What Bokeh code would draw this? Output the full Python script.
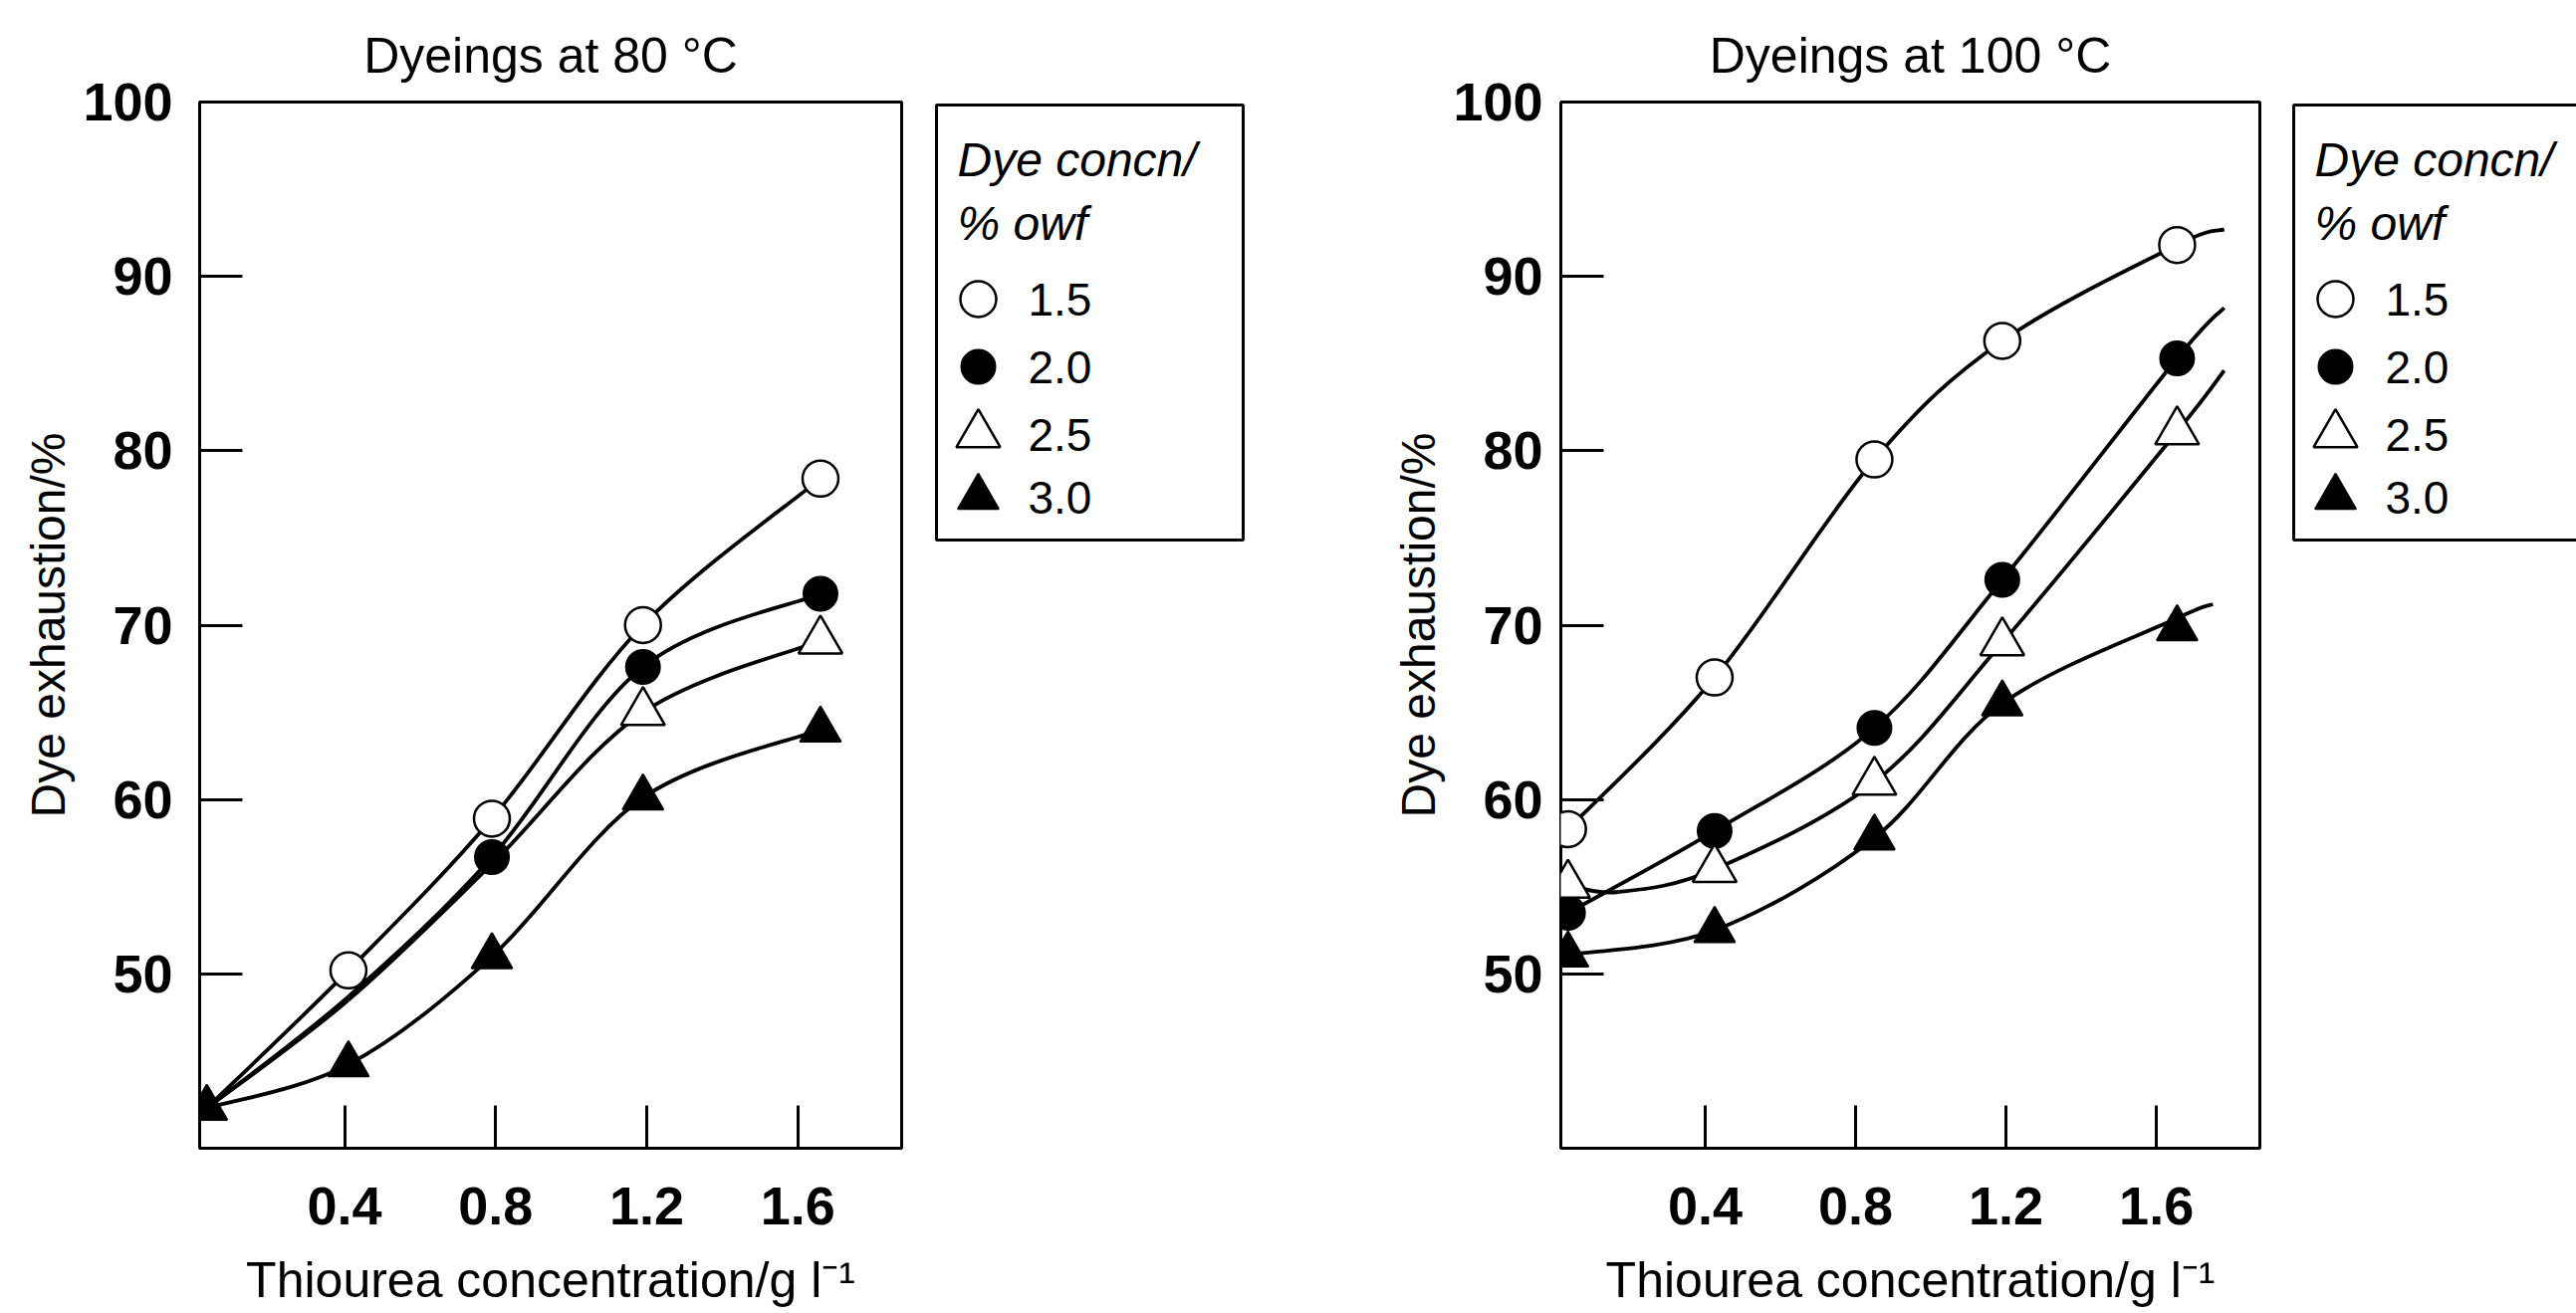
import numpy as np
from bokeh.plotting import figure
from bokeh.models import Range1d, FixedTicker, ColumnDataSource
from bokeh.layouts import row
from bokeh.core.properties import value
from bokeh.embed import file_html
from bokeh.resources import INLINE

FONT = "Liberation Sans"

# ---------------- data ----------------
series_labels = ["1.5", "2.0", "2.5", "3.0"]
legend_title = ["Dye concn/", "% owf"]
x_ticks = [0.4, 0.8, 1.2, 1.6]
y_ticks = [50, 60, 70, 80, 90, 100]
title_80 = "Dyeings at 80 °C"
title_100 = "Dyeings at 100 °C"
x_label = "Thiourea concentration/g l⁻¹"
y_label = "Dye exhaustion/%"

# Dyeings at 80 C : plotted points
x80_c15 = [0.41, 0.79, 1.19, 1.66]
y80_c15 = [50.2, 58.9, 70.0, 78.4]
x80_c20 = [0.79, 1.19, 1.66]
y80_c20 = [56.7, 67.6, 71.8]
x80_c25 = [1.19, 1.66]
y80_c25 = [65.0, 69.1]
x80_c30 = [0.035, 0.41, 0.79, 1.19, 1.66]
y80_c30 = [42.3, 44.8, 51.0, 60.1, 64.0]
# Dyeings at 80 C : traced curve knots
cx80_c15 = [0.035, 0.41, 0.79, 1.19, 1.66]
cy80_c15 = [42.3, 50.2, 58.9, 70.0, 78.4]
cx80_c20 = [0.035, 0.41, 0.79, 1.19, 1.66]
cy80_c20 = [42.3, 48.7, 56.7, 67.6, 71.8]
cx80_c25 = [0.035, 0.41, 0.79, 1.19, 1.66]
cy80_c25 = [42.3, 48.5, 56.3, 65.0, 69.1]
cx80_c30 = [0.035, 0.41, 0.79, 1.19, 1.66]
cy80_c30 = [42.3, 44.8, 51.0, 60.1, 64.0]

# Dyeings at 100 C : plotted points
x100 = [0.035, 0.425, 0.85, 1.19, 1.655]
y100_c15 = [58.3, 67.0, 79.5, 86.3, 91.8]
y100_c20 = [53.5, 58.2, 64.1, 72.6, 85.3]
y100_c25 = [55.1, 56.0, 61.0, 69.0, 81.1]
y100_c30 = [51.1, 52.5, 57.8, 65.5, 69.8]
# Dyeings at 100 C : traced curve knots
cx100_c15 = [0.035, 0.425, 0.85, 1.19, 1.655, 1.78]
cy100_c15 = [58.3, 67.0, 79.5, 86.3, 91.8, 92.7]
cx100_c20 = [0.035, 0.425, 0.85, 1.19, 1.655, 1.78]
cy100_c20 = [53.5, 58.2, 64.1, 72.6, 85.3, 88.2]
cx100_c25 = [0.035, 0.17, 0.425, 0.85, 1.19, 1.655, 1.78]
cy100_c25 = [55.1, 54.7, 56.0, 61.0, 69.0, 81.1, 84.6]
cx100_c30 = [0.035, 0.425, 0.85, 1.19, 1.655, 1.75]
cy100_c30 = [51.1, 52.5, 57.8, 65.5, 70.4, 71.2]

# ---------------- styles ----------------
H = 1319
TOP = 102
FH = 1051
STYLES = [
    dict(marker="circle", size=36, fill_color="white", line_color="black", line_width=2.5),
    dict(marker="circle", size=34, fill_color="black", line_color="black", line_width=2),
    dict(marker="triangle", size=44, fill_color="white", line_color="black", line_width=2.5),
    dict(marker="triangle", size=41, fill_color="black", line_color="black", line_width=2),
]


def smooth_segments(xs, ys):
    """Catmull-Rom spline through the knots, as cubic Bezier segments."""
    P = np.column_stack([xs, ys]).astype(float)
    E = np.vstack([P[0], P, P[-1]])
    d = dict(x0=[], y0=[], x1=[], y1=[], cx0=[], cy0=[], cx1=[], cy1=[])
    for i in range(len(P) - 1):
        p0, p1, p2, p3 = E[i], E[i + 1], E[i + 2], E[i + 3]
        c0 = p1 + (p2 - p0) / 6.0
        c1 = p2 - (p3 - p1) / 6.0
        d["x0"].append(p1[0]); d["y0"].append(p1[1])
        d["x1"].append(p2[0]); d["y1"].append(p2[1])
        d["cx0"].append(c0[0]); d["cy0"].append(c0[1])
        d["cx1"].append(c1[0]); d["cy1"].append(c1[1])
    return ColumnDataSource(d)


def make_plot(title, width, border_left, border_right, label_standoff, title_offset, markers, curves):
    p = figure(width=width, height=H, x_range=Range1d(0.016, 1.875), y_range=Range1d(40, 100),
               output_backend="svg", toolbar_location=None,
               min_border_left=border_left, min_border_right=border_right,
               min_border_top=TOP, min_border_bottom=H - TOP - FH)
    p.title.text = title
    p.title.text_font = FONT
    p.title.text_font_size = "50px"
    p.title.text_font_style = "normal"
    p.title.text_color = "black"
    p.title.align = "center"
    p.title.standoff = 38
    p.title.offset = title_offset
    p.grid.visible = False
    p.outline_line_color = "black"
    p.outline_line_width = 3
    p.background_fill_color = "white"
    p.border_fill_color = "white"
    for ax in (p.xaxis[0], p.yaxis[0]):
        ax.axis_line_color = None
        ax.major_tick_in = 43
        ax.major_tick_out = 0
        ax.major_tick_line_width = 3
        ax.major_tick_line_color = "black"
        ax.minor_tick_line_color = None
        ax.major_label_text_font = FONT
        ax.major_label_text_font_size = "54px"
        ax.major_label_text_font_style = "bold"
        ax.major_label_text_color = "black"
        ax.axis_label_text_font = FONT
        ax.axis_label_text_font_style = "normal"
        ax.axis_label_text_color = "black"
    p.xaxis.ticker = FixedTicker(ticks=x_ticks)
    p.yaxis.ticker = FixedTicker(ticks=y_ticks)
    p.xaxis.axis_label = x_label
    p.yaxis.axis_label = y_label
    p.xaxis.axis_label_text_font_size = "50px"
    p.yaxis.axis_label_text_font_size = "48px"
    p.xaxis.major_label_standoff = 39
    p.xaxis.axis_label_standoff = 25
    p.yaxis.major_label_standoff = label_standoff
    p.yaxis.axis_label_standoff = 5

    for cx, cy in curves:
        p.bezier(x0="x0", y0="y0", x1="x1", y1="y1", cx0="cx0", cy0="cy0",
                 cx1="cx1", cy1="cy1", source=smooth_segments(cx, cy),
                 line_color="black", line_width=3.8)
    for (mx, my), st in zip(markers, STYLES):
        p.scatter(mx, my, **st)
    return p


def make_legend(width, border_left, frame_w, box_right):
    bh = 437  # legend box height in px
    lg = figure(width=width, height=H, x_range=Range1d(-3, frame_w - 3), y_range=Range1d(FH - 3, -3),
                output_backend="svg", toolbar_location=None, x_axis_type=None, y_axis_type=None,
                min_border_left=border_left, min_border_right=width - border_left - frame_w,
                min_border_top=TOP, min_border_bottom=H - TOP - FH)
    lg.grid.visible = False
    lg.outline_line_color = None
    lg.background_fill_color = "white"
    lg.border_fill_color = "white"
    lg.quad(left=[0], right=[box_right], bottom=[bh], top=[0], fill_color=None,
            line_color="black", line_width=3)
    lg.text(x=[21, 21], y=[55, 119], text=legend_title, text_font=value(FONT),
            text_font_size=value("48px"), text_font_style="italic", text_baseline="middle",
            text_align="left", text_color="black")
    rows = [195, 263, 331, 394]
    for yy, st in zip(rows, STYLES):
        lg.scatter([42], [yy], **st)
    lg.text(x=[92] * 4, y=rows, text=series_labels, text_font=value(FONT),
            text_font_size=value("46px"), text_baseline="middle", text_align="left",
            text_color="black")
    return lg


p1 = make_plot(title_80, 930, 200, 25, 27, 0,
               [(x80_c15, y80_c15), (x80_c20, y80_c20), (x80_c25, y80_c25), (x80_c30, y80_c30)],
               [(cx80_c15, cy80_c15), (cx80_c20, cy80_c20), (cx80_c25, cy80_c25), (cx80_c30, cy80_c30)])
l1 = make_legend(370, 7, 314, 308)
p2 = make_plot(title_100, 990, 267, 21, 18, 16,
               [(x100, y100_c15), (x100, y100_c20), (x100, y100_c25), (x100, y100_c30)],
               [(cx100_c15, cy100_c15), (cx100_c20, cy100_c20), (cx100_c25, cy100_c25), (cx100_c30, cy100_c30)])
l2 = make_legend(297, 10, 287, 340)

layout = row(p1, l1, p2, l2)
open("out.html", "w").write(file_html(layout, INLINE))
